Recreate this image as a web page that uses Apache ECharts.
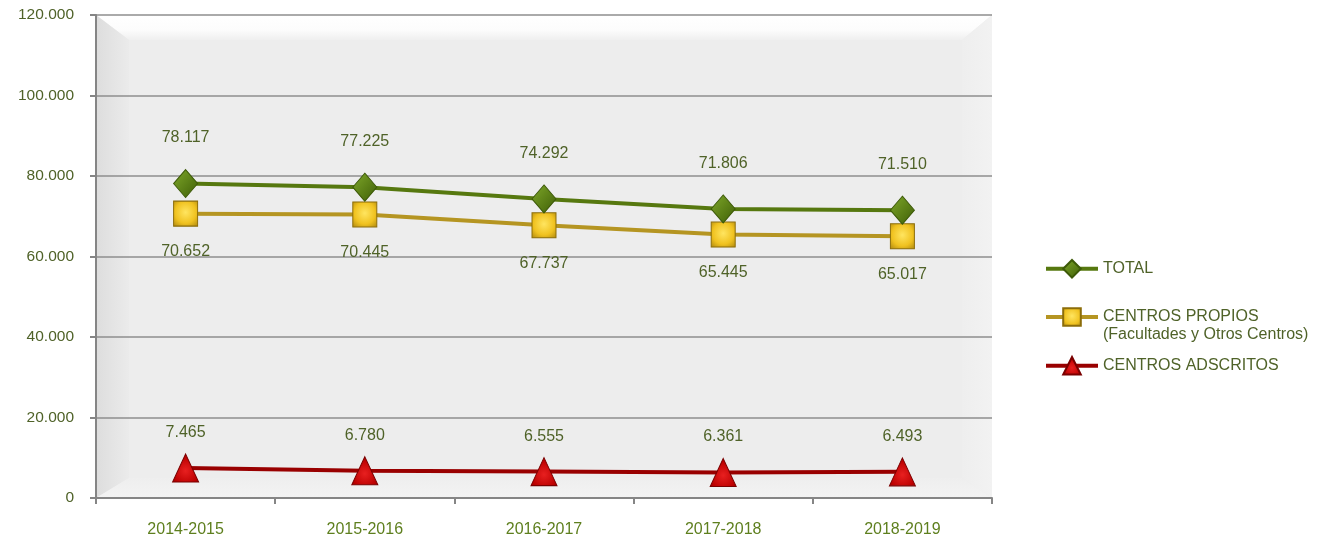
<!DOCTYPE html>
<html><head><meta charset="utf-8">
<script src="https://cdn.jsdelivr.net/npm/echarts@6/dist/echarts.min.js"></script>
<style>html,body{margin:0;padding:0;background:#fff}#c{width:1319px;height:542px}</style>
</head><body><div id="c"></div>
<script>
var categories = ['2014-2015','2015-2016','2016-2017','2017-2018','2018-2019'];
var totalValues = [78117, 77225, 74292, 71806, 71510];
var propiosValues = [70652, 70445, 67737, 65445, 65017];
var adscritosValues = [7465, 6780, 6555, 6361, 6493];
var seriesNames = ['TOTAL', 'CENTROS PROPIOS', 'CENTROS ADSCRITOS'];

function fmt(v){ return String(v).replace(/\B(?=(\d{3})+(?!\d))/g, '.'); }
var FONT = '"Liberation Sans", Arial, sans-serif';
var olive = '#4F6228';
var W = 1319, H = 542;
var GL = 96, GR = 327, GT = 15, GB = 44;
var L = GL, R = W - GR, T = GT, B = H - GB;
var bl = 33, bt = 25, br = 30, bb = 20;

var chart = echarts.init(document.getElementById('c'));
function lbl(pos, dist){
  return {show:true, position:pos, distance:dist, color:olive, fontSize:16, fontFamily:FONT,
          formatter:function(p){return fmt(p.value);}};
}
function lg(){ return {type:'linear',x:0,y:0,x2:1,y2:0,colorStops:[].slice.call(arguments)}; }
function vg(){ return {type:'linear',x:0,y:0,x2:0,y2:1,colorStops:[].slice.call(arguments)}; }
var legendText = {color:olive, fontSize:16, fontFamily:FONT, lineHeight:18};
var legendBase = {orient:'vertical', left:1044, padding:0, itemWidth:52, itemHeight:22, itemGap:0,
                  textStyle:legendText, lineStyle:{width:4}};
chart.setOption({
  animation:false,
  grid:{left:GL, right:GR, top:GT, bottom:GB, show:true, backgroundColor:'#EDEDED', borderWidth:0},
  graphic:[
    {type:'polygon', z:1, silent:true, shape:{points:[[L,T],[R,T],[R-br,T+bt],[L+bl,T+bt]]},
     style:{fill:vg({offset:0,color:'#FFFFFF'},{offset:0.6,color:'#FCFCFC'},{offset:1,color:'#EFEFEF'})}},
    {type:'polygon', z:1, silent:true, shape:{points:[[L,T],[L+bl,T+bt],[L+bl,B-bb],[L,B]]},
     style:{fill:lg({offset:0,color:'#DDDDDD'},{offset:1,color:'#EBEBEB'})}},
    {type:'polygon', z:1, silent:true, shape:{points:[[R,T],[R,B],[R-br,B-bb],[R-br,T+bt]]},
     style:{fill:lg({offset:0,color:'#EEEEEE'},{offset:1,color:'#F2F2F2'})}},
    {type:'polygon', z:1, silent:true, shape:{points:[[L,B],[R,B],[R-br,B-bb],[L+bl,B-bb]]},
     style:{fill:vg({offset:0,color:'#EEEEEE'},{offset:1,color:'#F3F3F3'})}}
  ],
  legend:[
    echarts.util.merge({data:[seriesNames[0]], top:259}, legendBase, false),
    echarts.util.merge({data:[seriesNames[1]], top:290,
      formatter:function(n){return '\n' + n + '\n(Facultades y Otros Centros)';}}, legendBase, false),
    echarts.util.merge({data:[seriesNames[2]], top:356}, legendBase, false)
  ],
  xAxis:{type:'category', data:categories, boundaryGap:true, z:2,
    axisLine:{lineStyle:{color:'#858585', width:2}},
    axisTick:{show:true, length:6, lineStyle:{color:'#858585', width:2}},
    axisLabel:{color:'#5E7F1E', fontSize:16, fontFamily:FONT, margin:24}},
  yAxis:{type:'value', min:0, max:120000, interval:20000, z:2,
    axisLine:{show:true, lineStyle:{color:'#858585', width:2}},
    axisTick:{show:true, length:6, lineStyle:{color:'#858585', width:2}},
    splitLine:{show:true, lineStyle:{color:'#8E8E8E', width:1.5}},
    axisLabel:{color:olive, fontSize:15.5, fontFamily:FONT, margin:22, formatter:function(v){return fmt(v);}}},
  series:[
    {name:seriesNames[0], type:'line', data:totalValues, symbol:'diamond', symbolSize:[24,28],
     lineStyle:{color:'#56780F', width:4},
     itemStyle:{color:{type:'linear',x:0,y:0,x2:1,y2:1,colorStops:[{offset:0,color:'#7FA82A'},{offset:1,color:'#3E5E06'}]}, borderColor:'#3D5A08', borderWidth:1},
     label:lbl('top', 23), z:5},
    {name:seriesNames[1], type:'line', data:propiosValues, symbol:'rect', symbolSize:[24,25],
     lineStyle:{color:'#B59522', width:4},
     itemStyle:{color:{type:'radial',x:0.5,y:0.45,r:0.7,colorStops:[{offset:0,color:'#FFE560'},{offset:0.6,color:'#F0C220'},{offset:1,color:'#B38C10'}]}, borderColor:'#8C6D0A', borderWidth:1},
     label:lbl('bottom', 17), z:4},
    {name:seriesNames[2], type:'line', data:adscritosValues, symbol:'triangle', symbolSize:[26,28],
     lineStyle:{color:'#990000', width:4},
     itemStyle:{color:{type:'radial',x:0.5,y:0.6,r:0.7,colorStops:[{offset:0,color:'#E82020'},{offset:0.7,color:'#BB0000'},{offset:1,color:'#800000'}]}, borderColor:'#7A0000', borderWidth:1},
     label:lbl('top', 13), z:4}
  ]
});
</script></body></html>
